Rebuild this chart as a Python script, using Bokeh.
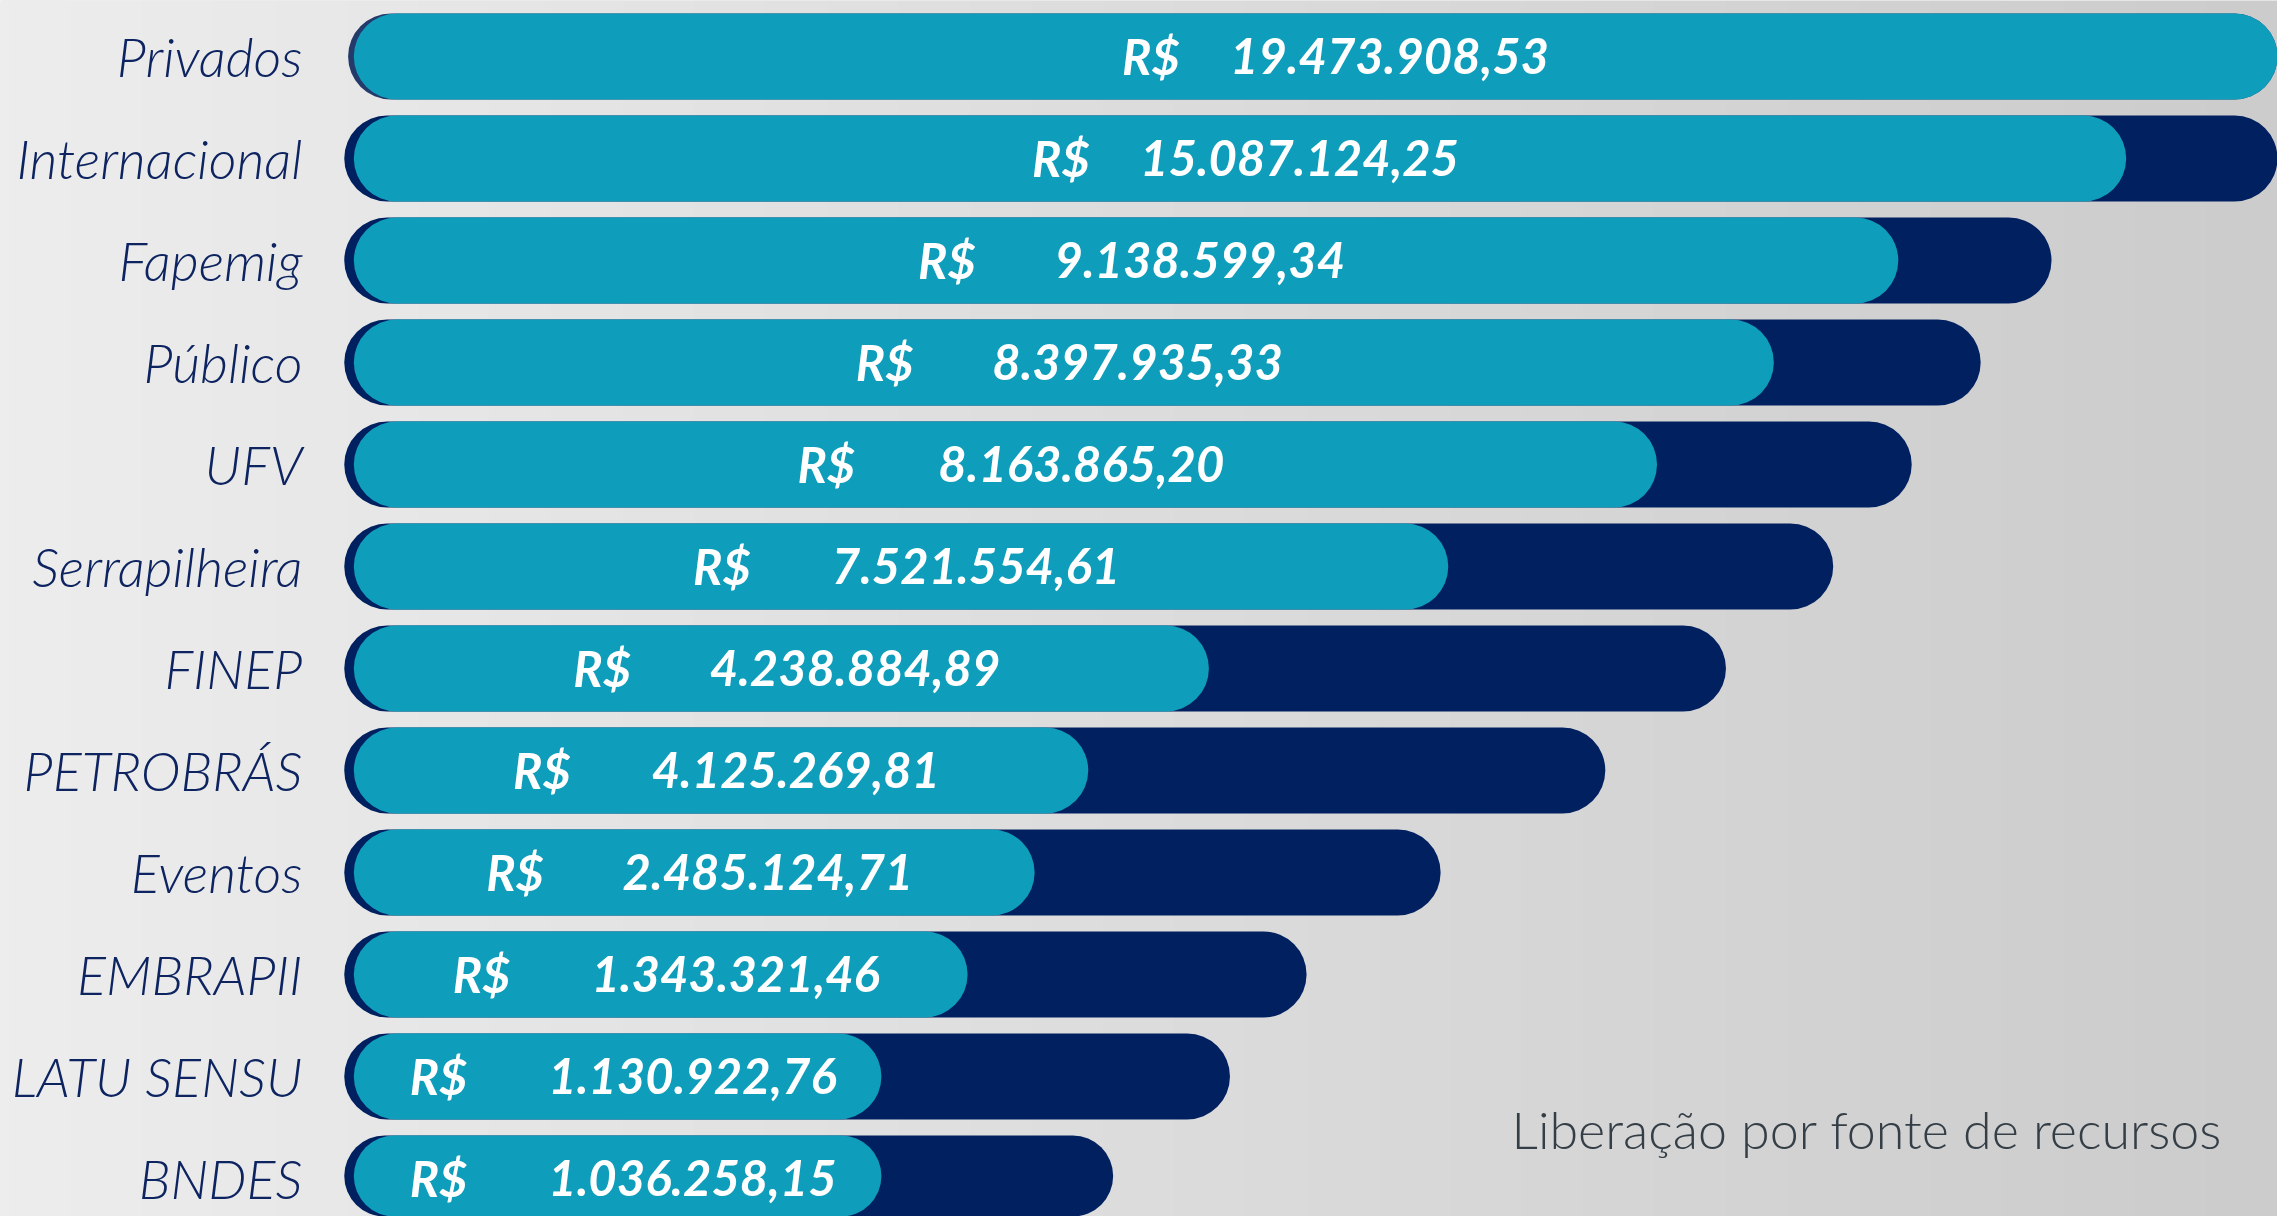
import numpy as np
from bokeh.plotting import figure
from bokeh.models import Range1d, ColumnDataSource, Label
from bokeh.core.properties import value
from bokeh.embed import file_html
from bokeh.resources import INLINE

# ---------------- data ----------------
categories = ["Privados", "Internacional", "Fapemig", "Público", "UFV", "Serrapilheira",
              "FINEP", "PETROBRÁS", "Eventos", "EMBRAPII", "LATU SENSU", "BNDES"]
amounts = [19473908.53, 15087124.25, 9138599.34, 8397935.33, 8163865.20, 7521554.61,
           4238884.89, 4125269.81, 2485124.71, 1343321.46, 1130922.76, 1036258.15]
# displayed bar extents (percent of chart width)
teal_extent = [101.5, 92.1, 80.2, 73.7, 67.6, 56.7, 44.2, 37.9, 35.1, 31.6, 27.1, 27.1]
navy_extent = [101.5, 100.2, 88.2, 84.5, 80.9, 76.8, 71.2, 64.9, 56.3, 49.3, 45.3, 39.2]
caption = "Liberação por fonte de recursos"
currency = "R$"

# ---------------- styles ----------------
TEAL = "#0e9dba"
NAVY = "#002060"
NAVY_TOP = "#243a6b"
LABEL_COLOR = "#0d2461"
CAPTION_COLOR = "#343e47"

W, H = 2277, 1216
X0, X1 = -18.90, 100.0
Y0, Y1 = -0.373, 11.549
BAR_H = 0.843
BAR_START = -0.45


def brl(v):
    s = f"{v:,.2f}"
    return s.replace(",", "X").replace(".", ",").replace("X", ".")


n = len(categories)
ypos = [n - 1 - i for i in range(n)]
src = ColumnDataSource(dict(
    y=ypos,
    cat=categories,
    teal=teal_extent,
    navy=navy_extent,
    nleft=[BAR_START - (0.3 if i == 0 else 0.5) for i in range(n)],
    ncolor=[NAVY_TOP if i == 0 else NAVY for i in range(n)],
    tc=[(BAR_START + t) / 2 for t in teal_extent],
    rs=[currency] * n,
    num=[brl(v) for v in amounts],
))

p = figure(width=W, height=H, x_range=Range1d(X0, X1), y_range=Range1d(Y0, Y1),
           output_backend="svg", toolbar_location=None, min_border=0)
p.axis.visible = False
p.grid.visible = False
p.outline_line_color = None
p.background_fill_color = "#dedede"
p.border_fill_color = "#dedede"

# background gradient (decoration)
cols = 256
t = np.linspace(0, 1, cols)
left_c = np.array([237, 237, 237])
right_c = np.array([205, 204, 204])
rgb = (left_c[None, :] * (1 - t[:, None]) + right_c[None, :] * t[:, None]).astype(np.uint8)
img = np.empty((1, cols), dtype=np.uint32)
view = img.view(dtype=np.uint8).reshape((1, cols, 4))
view[0, :, 0] = rgb[:, 0]
view[0, :, 1] = rgb[:, 1]
view[0, :, 2] = rgb[:, 2]
view[0, :, 3] = 255
p.image_rgba(image=[img], x=X0, y=Y0, dw=X1 - X0, dh=Y1 - Y0)

p.hbar(y="y", left="nleft", right="navy", height=BAR_H, fill_color="ncolor",
       line_color=None, border_radius=43, source=src)
p.hbar(y="y", left=BAR_START, right="teal", height=BAR_H, fill_color=TEAL,
       line_color=None, border_radius=43, source=src)

p.text(x="tc", y="y", text="rs", x_offset=-208, text_align="left", text_baseline="middle",
       text_font=value("Lato"), text_font_style="bold italic", text_font_size="49px",
       text_color="white", source=src)
p.text(x="tc", y="y", text="num", x_offset=219, text_align="right", text_baseline="middle",
       text_font=value("Lato"), text_font_style="bold italic", text_font_size="49px",
       text_color="white", source=src)

p.text(x=0, y="y", text="cat", x_offset=-60, text_align="right", text_baseline="middle",
       text_font=value("Lato Light"), text_font_style="italic", text_font_size="54px",
       text_color=LABEL_COLOR, source=src)

p.add_layout(Label(x=2222, y=88, x_units="screen", y_units="screen", text=caption,
                   text_align="right", text_baseline="alphabetic",
                   text_font="Lato Light", text_font_size="52px",
                   text_color=CAPTION_COLOR))

open("out.html", "w").write(file_html(p, INLINE))
